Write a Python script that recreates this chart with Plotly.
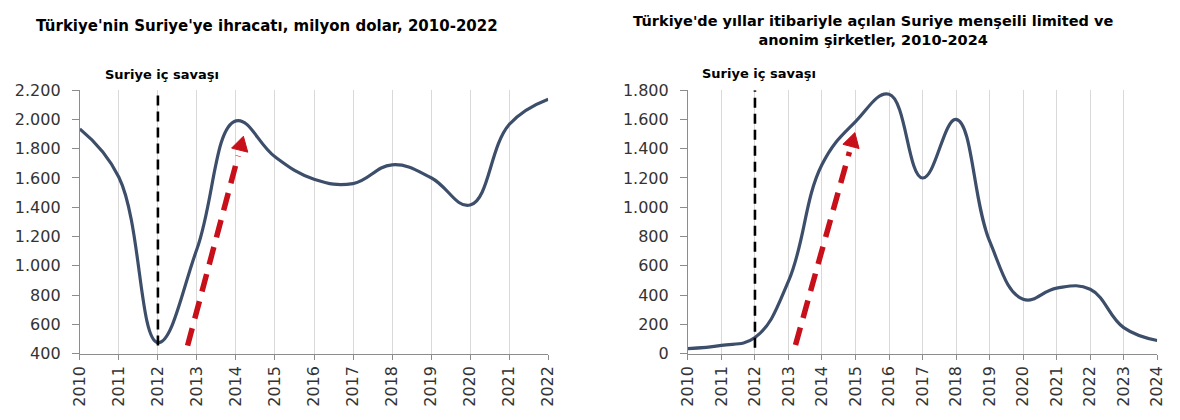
import plotly.graph_objects as go
import math

# ---------------- data ----------------
years_left = list(range(2010, 2023))
export_musd = [1935, 1605, 475, 1115, 1990, 1745, 1592, 1562, 1690, 1602, 1415, 1965, 2138]

years_right = list(range(2010, 2025))
companies = [35, 57, 110, 495, 1292, 1585, 1772, 1200, 1600, 768, 372, 448, 440, 178, 90]

title_left = "Türkiye'nin Suriye'ye ihracatı, milyon dolar, 2010-2022"
title_right = "Türkiye'de yıllar itibariyle açılan Suriye menşeili limited ve<br>anonim şirketler, 2010-2024"
war_label = "Suriye iç savaşı"
war_year = 2012

left_yticks = [400, 600, 800, 1000, 1200, 1400, 1600, 1800, 2000, 2200]
right_yticks = [0, 200, 400, 600, 800, 1000, 1200, 1400, 1600, 1800]

# arrows (data coords): tail -> tip
left_arrow = ((2012.76, 455), (2014.19, 1885))
right_arrow = ((2013.21, 60), (2014.98, 1510))
left_war_line = (455, 2200)
right_war_line = (40, 1800)

# ---------------- layout constants ----------------
W, H = 1180, 420
LEFT_BOX = (71, 547)     # px x
RIGHT_BOX = (689, 1166)
Y_BOX = (85, 361)        # px top, bottom
LINE_COLOR = "#3D4E6B"
RED = "#C8101A"
FONT = "DejaVu Sans"

xdom_l = [LEFT_BOX[0] / W, LEFT_BOX[1] / W]
xdom_r = [RIGHT_BOX[0] / W, RIGHT_BOX[1] / W]
ydom = [1 - Y_BOX[1] / H, 1 - Y_BOX[0] / H]

fig = go.Figure()
fig.add_trace(go.Scatter(x=years_left, y=export_musd, mode="lines",
                         line=dict(color=LINE_COLOR, width=3.2, shape="spline", smoothing=1.2),
                         xaxis="x", yaxis="y", showlegend=False, hoverinfo="skip"))
fig.add_trace(go.Scatter(x=years_right, y=companies, mode="lines",
                         line=dict(color=LINE_COLOR, width=3.2, shape="spline", smoothing=1.2),
                         xaxis="x2", yaxis="y2", showlegend=False, hoverinfo="skip"))

tickfont = dict(family=FONT, size=16, color="#333333")
common_x = dict(showgrid=True, gridcolor="#D9D9D9", gridwidth=1, showline=True, linecolor="#8C8C8C",
                linewidth=1, ticks="outside", ticklen=5, tickcolor="#8C8C8C", tickangle=-90,
                tickfont=tickfont, dtick=1, zeroline=False, tickformat="d")
common_y = dict(showgrid=False, showline=True, linecolor="#8C8C8C", linewidth=1, ticks="outside",
                ticklen=7, tickcolor="#8C8C8C", tickfont=tickfont, zeroline=False,
                separatethousands=True, tickformat=",d", ticklabelstandoff=8)

fig.update_layout(
    width=W, height=H, margin=dict(l=0, r=0, t=0, b=0),
    paper_bgcolor="white", plot_bgcolor="white",
    separators=",.",
    xaxis=dict(domain=xdom_l, range=[years_left[0], years_left[-1]], anchor="y", tick0=2010, **common_x),
    yaxis=dict(domain=ydom, range=[left_yticks[0], left_yticks[-1]], anchor="x", tickvals=left_yticks, **common_y),
    xaxis2=dict(domain=xdom_r, range=[years_right[0], years_right[-1]], anchor="y2", tick0=2010, **common_x),
    yaxis2=dict(domain=ydom, range=[right_yticks[0], right_yticks[-1]], anchor="x2", tickvals=right_yticks, **common_y),
)

shapes = []
annotations = []


def to_px(x, y, box, xr, yr):
    px = box[0] + (x - xr[0]) / (xr[1] - xr[0]) * (box[1] - box[0])
    py = Y_BOX[1] - (y - yr[0]) / (yr[1] - yr[0]) * (Y_BOX[1] - Y_BOX[0])
    return px, py


def to_data(px, py, box, xr, yr):
    x = xr[0] + (px - box[0]) / (box[1] - box[0]) * (xr[1] - xr[0])
    y = yr[0] + (Y_BOX[1] - py) / (Y_BOX[1] - Y_BOX[0]) * (yr[1] - yr[0])
    return x, y


def add_arrow(arrow, box, xr, yr, xref, yref):
    (tx, ty), (hx, hy) = arrow
    p0 = to_px(tx, ty, box, xr, yr)
    p1 = to_px(hx, hy, box, xr, yr)
    dx, dy = p1[0] - p0[0], p1[1] - p0[1]
    L = math.hypot(dx, dy)
    ux, uy = dx / L, dy / L
    head_len, half_w = 15, 8.5
    bx, by = p1[0] - ux * head_len, p1[1] - uy * head_len
    sx, sy = p1[0] - ux * (head_len + 6), p1[1] - uy * (head_len + 6)
    s_end = to_data(sx, sy, box, xr, yr)
    shapes.append(dict(type="line", xref=xref, yref=yref, x0=tx, y0=ty, x1=s_end[0], y1=s_end[1],
                       line=dict(color=RED, width=5.5, dash="18px,10px")))
    c1 = to_data(bx - uy * half_w, by + ux * half_w, box, xr, yr)
    c2 = to_data(bx + uy * half_w, by - ux * half_w, box, xr, yr)
    path = f"M {hx},{hy} L {c1[0]},{c1[1]} L {c2[0]},{c2[1]} Z"
    shapes.append(dict(type="path", xref=xref, yref=yref, path=path, fillcolor=RED,
                       line=dict(color=RED, width=1)))


xr_l = (years_left[0], years_left[-1]); yr_l = (left_yticks[0], left_yticks[-1])
xr_r = (years_right[0], years_right[-1]); yr_r = (right_yticks[0], right_yticks[-1])

for xref, yref, (y0, y1) in (("x", "y", left_war_line), ("x2", "y2", right_war_line)):
    shapes.append(dict(type="line", xref=xref, yref=yref, x0=war_year, x1=war_year, y0=y0, y1=y1,
                       line=dict(color="black", width=2.6, dash="10px,6px")))

add_arrow(left_arrow, LEFT_BOX, xr_l, yr_l, "x", "y")
add_arrow(right_arrow, RIGHT_BOX, xr_r, yr_r, "x2", "y2")

# titles
annotations.append(dict(text=f"<b>{title_left}</b>", xref="paper", yref="paper", x=261 / W, y=1 - 18 / H,
                        xanchor="center", yanchor="middle", showarrow=False,
                        font=dict(family=FONT, size=15, color="black")))
annotations.append(dict(text=f"<b>{title_right}</b>", xref="paper", yref="paper", x=877 / W, y=1 - 22 / H,
                        xanchor="center", yanchor="middle", showarrow=False, align="center",
                        font=dict(family=FONT, size=14.5, color="black")))
# war labels
annotations.append(dict(text=f"<b>{war_label}</b>", xref="paper", yref="paper", x=154 / W, y=1 - 69 / H,
                        xanchor="center", yanchor="middle", showarrow=False,
                        font=dict(family=FONT, size=13, color="black")))
annotations.append(dict(text=f"<b>{war_label}</b>", xref="paper", yref="paper", x=761 / W, y=1 - 68 / H,
                        xanchor="center", yanchor="middle", showarrow=False,
                        font=dict(family=FONT, size=13, color="black")))

fig.update_layout(shapes=shapes, annotations=annotations)
fig.write_html("out.html")
